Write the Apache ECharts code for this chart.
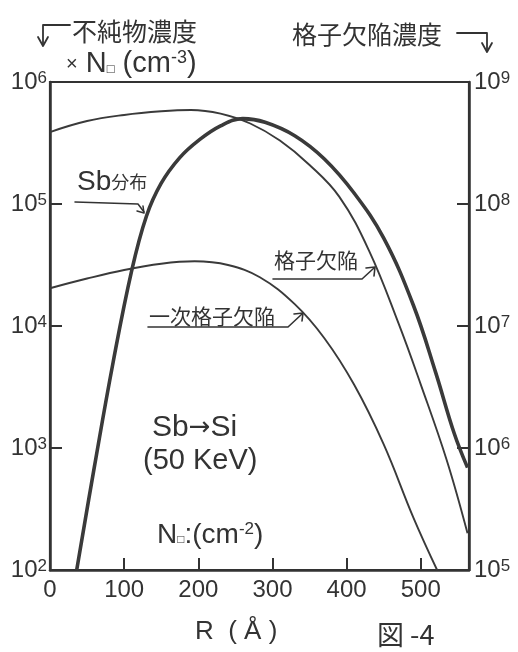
<!DOCTYPE html>
<html><head><meta charset="utf-8">
<script src="https://cdn.jsdelivr.net/npm/echarts@6/dist/echarts.min.js"></script>
<style>html,body{margin:0;padding:0;background:#fff}#c{width:518px;height:652px}</style>
</head><body><div id="c"></div>
<script>
// Sb分布 (bold curve), left-axis units (cm^-3 × N0)
const R_sb = [36, 60, 85, 110, 130, 150, 175, 200, 230, 260, 290, 330, 370, 410, 450, 490, 520, 545, 563];
const V_sb = [100, 710, 5000, 28200, 79400, 148000, 240000, 331000, 437000, 501000, 468000, 363000, 234000, 123000, 52500, 14800, 4170, 1320, 690];
// 格子欠陥 (thin upper curve)
const R_def = [0, 50, 100, 150, 190, 230, 270, 310, 350, 390, 430, 470, 500, 535, 563];
const V_def = [389000, 479000, 537000, 575000, 589000, 550000, 457000, 331000, 209000, 115000, 41700, 10500, 3310, 794, 200];
// 一次格子欠陥 (thin lower curve)
const R_pri = [0, 50, 100, 150, 195, 240, 283, 330, 370, 410, 450, 490, 522];
const V_pri = [20400, 24500, 28800, 32400, 33900, 31600, 25100, 15100, 7940, 3310, 1070, 269, 100];

const xTicks = [0, 100, 200, 300, 400, 500];
const leftExp = [2, 3, 4, 5, 6];
const rightExp = [5, 6, 7, 8, 9];

const INK = '#333';
const LINE = '#3a3a3a';
const NUMF = '"Liberation Sans", "Noto Sans", sans-serif';
const JPF = '"Noto Sans CJK JP", "Noto Sans", sans-serif';

function pairs(r, v) { return r.map((x, i) => [x, v[i]]); }
function expLabel(v) { return '{b|10}{s|' + Math.round(Math.log10(v)) + '}'; }
const supRich = {
  b: { fontSize: 24, fontFamily: NUMF, color: INK },
  s: { fontSize: 17, fontFamily: NUMF, color: INK, verticalAlign: 'top' }
};

const chart = echarts.init(document.getElementById('c'), null, { renderer: 'canvas' });

function txt(x, y, text, size, opt) {
  opt = opt || {};
  return {
    type: 'text', x: x, y: y, silent: true,
    style: {
      text: text, fill: INK, font: 'normal ' + size + 'px ' + (opt.family || JPF),
      align: opt.align || 'left', verticalAlign: opt.valign || 'middle', rich: opt.rich
    }
  };
}
function pl(points, w) {
  return { type: 'polyline', silent: true, shape: { points: points },
    style: { stroke: INK, lineWidth: w || 1.6, fill: null, lineCap: 'round', lineJoin: 'round' } };
}

const richTop = {
  m: { fontSize: 29, fontFamily: NUMF, color: INK },
  x: { fontSize: 20, fontFamily: NUMF, color: INK },
  q: { fontSize: 13, fontFamily: NUMF, color: INK, verticalAlign: 'bottom', padding: [0, 0, 3, 0] },
  s: { fontSize: 18, fontFamily: NUMF, color: INK, verticalAlign: 'top' }
};

const option = {
  animation: false,
  backgroundColor: '#fff',
  grid: { left: 50, right: 49, top: 82, bottom: 82, show: true, borderColor: INK, borderWidth: 2.2, backgroundColor: 'transparent' },
  xAxis: {
    type: 'value', min: xTicks[0], max: 565, interval: 100,
    axisLine: { show: true, lineStyle: { color: INK, width: 2.5 } },
    axisTick: { show: true, inside: true, length: 12, lineStyle: { color: INK, width: 2 } },
    axisLabel: { show: true, margin: 8, fontSize: 24, fontFamily: NUMF, color: INK,
      formatter: v => (xTicks.indexOf(v) >= 0 ? String(v) : '') },
    splitLine: { show: false }
  },
  yAxis: [
    {
      type: 'log', logBase: 10, min: Math.pow(10, leftExp[0]), max: Math.pow(10, leftExp[leftExp.length - 1]),
      position: 'left',
      axisLine: { show: true, lineStyle: { color: INK, width: 2.5 } },
      axisTick: { show: true, inside: true, length: 12, lineStyle: { color: INK, width: 2 } },
      axisLabel: { margin: 3, formatter: expLabel, rich: supRich },
      splitLine: { show: false }, minorTick: { show: false }
    },
    {
      type: 'log', logBase: 10, min: Math.pow(10, rightExp[0]), max: Math.pow(10, rightExp[rightExp.length - 1]),
      position: 'right',
      axisLine: { show: true, lineStyle: { color: INK, width: 2.5 } },
      axisTick: { show: true, inside: true, length: 12, lineStyle: { color: INK, width: 2 } },
      axisLabel: { margin: 5, formatter: expLabel, rich: supRich },
      splitLine: { show: false }, minorTick: { show: false }
    }
  ],
  series: [
    { name: 'Sb分布', type: 'line', yAxisIndex: 0, data: pairs(R_sb, V_sb), smooth: 0.4, symbol: 'none',
      lineStyle: { color: LINE, width: 3.6 }, z: 3 },
    { name: '格子欠陥', type: 'line', yAxisIndex: 0, data: pairs(R_def, V_def), smooth: 0.4, symbol: 'none',
      lineStyle: { color: LINE, width: 1.9 }, z: 2 },
    { name: '一次格子欠陥', type: 'line', yAxisIndex: 0, data: pairs(R_pri, V_pri), smooth: 0.4, symbol: 'none',
      lineStyle: { color: LINE, width: 1.9 }, z: 2 }
  ],
  graphic: [
    // top-left header
    pl([[70, 25], [43, 25], [43, 45]], 1.8),
    pl([[38, 37], [43, 46], [48, 37]], 1.8),
    txt(72, 31, '不純物濃度', 25),
    txt(66, 64, '{x|×}{m| N}{q|□}{m| (cm}{s|-3}{m|)}', 29, { rich: richTop, family: NUMF }),
    // top-right header
    txt(292, 34, '格子欠陥濃度', 25),
    pl([[457, 33], [487, 33], [487, 51]], 1.8),
    pl([[482, 43], [487, 52], [492, 43]], 1.8),
    // Sb分布 label
    txt(77, 182, '{m|Sb}{k|分布}', 27, { rich: {
      m: { fontSize: 28, fontFamily: NUMF, color: INK },
      k: { fontSize: 18, fontFamily: JPF, color: INK }
    } }),
    pl([[75, 202], [138, 204], [144, 212]], 1.5),
    pl([[137, 211], [144, 213], [143, 206]], 1.5),
    // 格子欠陥 label
    txt(274, 260, '格子欠陥', 21),
    pl([[273, 279], [362, 279], [374, 268]], 1.6),
    pl([[366, 268], [375, 267], [374, 276]], 1.6),
    // 一次格子欠陥 label
    txt(149, 316, '一次格子欠陥', 21),
    pl([[148, 327], [288, 327], [302, 314]], 1.6),
    pl([[294, 314], [303, 313], [302, 321]], 1.6),
    // condition text
    txt(152, 428, '{m|Sb}{a|→}{m|Si}', 30, { family: NUMF, rich: {
      m: { fontSize: 30, fontFamily: NUMF, color: INK },
      a: { fontSize: 26, fontFamily: '"DejaVu Sans", sans-serif', color: INK }
    } }),
    txt(143, 461, '(50 KeV)', 29, { family: NUMF }),
    txt(157, 535, '{m|N}{q|□}{m|:(cm}{s|-2}{m|)}', 28, { rich: {
      m: { fontSize: 28, fontFamily: NUMF, color: INK },
      q: { fontSize: 12, fontFamily: NUMF, color: INK, verticalAlign: 'bottom', padding: [0, 0, 3, 0] },
      s: { fontSize: 17, fontFamily: NUMF, color: INK, verticalAlign: 'top' }
    }, family: NUMF }),
    // axis name and figure number
    txt(195, 632, 'R  ( Å )', 26, { family: NUMF }),
    txt(377, 635, '図 -4', 27)
  ]
};
chart.setOption(option);
</script>
</body></html>
